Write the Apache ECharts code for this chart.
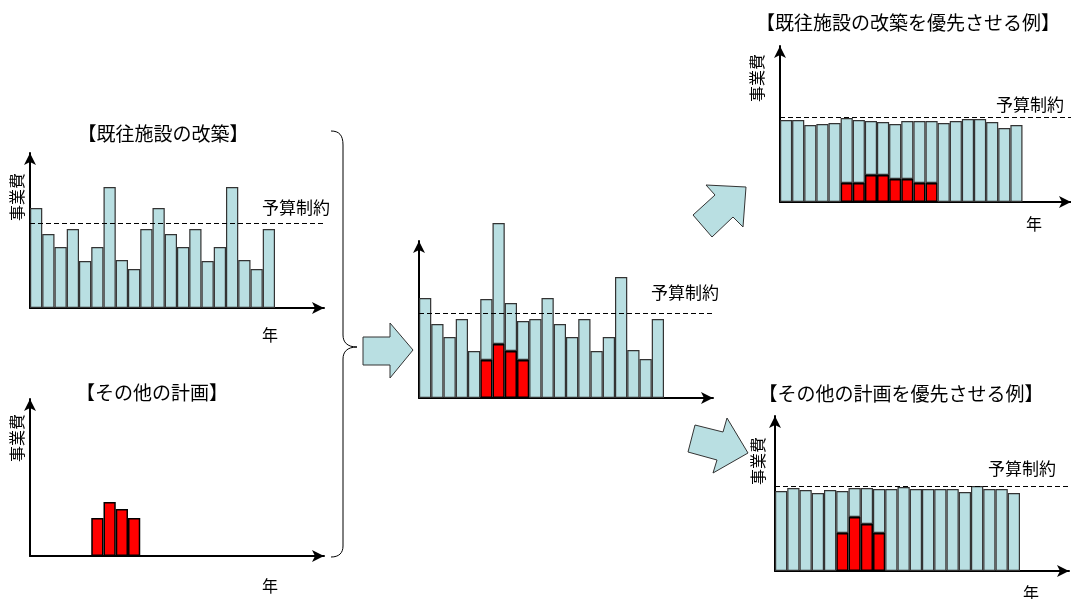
<!DOCTYPE html>
<html lang="ja">
<head>
<meta charset="utf-8">
<title>事業費の平準化</title>
<script src="https://cdn.jsdelivr.net/npm/echarts@6/dist/echarts.min.js"></script>
<style>
  html, body { margin: 0; padding: 0; background: #ffffff; }
  #chart { width: 1071px; height: 599px; }
</style>
</head>
<body>
<div id="chart"></div>
<script>
// Years along the horizontal axis (the last four are the open end of the axis)
const years = ['1', '2', '3', '4', '5', '6', '7', '8', '9', '10', '11', '12',
               '13', '14', '15', '16', '17', '18', '19', '20', '21', '22', '23', '24'];

// 既往施設の改築: yearly cost of renewing existing facilities
const existingRenewal = [100, 74, 61, 79, 47, 61, 121, 48, 39, 79,
                         100, 74, 61, 79, 47, 61, 121, 48, 39, 79];

// その他の計画: yearly cost of the other plans
const otherPlans = [null, null, null, null, null, 38, 54, 47, 38, null,
                    null, null, null, null, null, null, null, null, null, null];

// 既往施設の改築を優先させる例: other plans spread out, renewal levelled
const otherPlansSpread = [null, null, null, null, null, 19, 19, 27, 27, 23,
                          23, 19, 19, null, null, null, null, null, null, null];
const renewalWhenRenewalFirst = [82, 82, 77, 78, 79, 65, 63, 54, 53, 55,
                                 58, 62, 62, 79, 81, 83, 83, 80, 74, 77];

// その他の計画を優先させる例: other plans kept, renewal levelled around them
const renewalWhenPlansFirst = [80, 83, 81, 78, 81, 42, 29, 36, 44, 82,
                               84, 82, 82, 82, 82, 79, 85, 82, 82, 78];

// 予算制約: budget ceiling
const budgetLimit = 85;

// Text labels
const titles = ['【既往施設の改築】', '【その他の計画】', '【既往施設の改築を優先させる例】', '【その他の計画を優先させる例】'];
const costLabel = '事業費';
const yearLabel = '年';
const budgetLabel = '予算制約';

const FONT = '"Noto Sans CJK JP", "Noto Sans", sans-serif';
const BLUE = '#B9DFE2';
const RED = '#FF0000';

// Panel frames: left edge of the vertical axis, top of the value range, height
const panels = [
  { left: 30,  top: 153, height: 155 },   // 既往施設の改築
  { left: 30,  top: 399, height: 157 },   // その他の計画
  { left: 419, top: 241, height: 157 },   // combined
  { left: 780, top: 46,  height: 156 },   // 既往施設の改築を優先
  { left: 775, top: 416, height: 155 }    // その他の計画を優先
];

const axisLineStyle = { color: '#000', width: 2 };

const grids = panels.map(p => ({ left: p.left, top: p.top, width: 294, height: p.height }));
const xAxes = panels.map((p, i) => ({
  type: 'category', gridIndex: i, data: years, boundaryGap: true,
  axisLine: { show: true, onZero: true, symbol: ['none', 'arrow'], symbolSize: [9, 12], lineStyle: axisLineStyle },
  axisTick: { show: false }, axisLabel: { show: false }, splitLine: { show: false }
}));
const yAxes = panels.map((p, i) => ({
  type: 'value', gridIndex: i, min: 0, max: p.height,
  axisLine: { show: true, symbol: ['none', 'arrow'], symbolSize: [9, 12], lineStyle: axisLineStyle },
  axisTick: { show: false }, axisLabel: { show: false }, splitLine: { show: false }
}));

const blueStyle = { color: BLUE, borderColor: '#333', borderWidth: 1.2 };
const redStyle = { color: RED, borderColor: '#000', borderWidth: 1.5 };

function budgetLine() {
  return {
    silent: true, symbol: 'none',
    lineStyle: { color: '#000', type: [5, 3], width: 1 },
    label: { show: false },
    data: [{ yAxis: budgetLimit }]
  };
}

// Bars may rise past the top of the arrowed axis, so they are not clipped to the grid
function bar(name, idx, data, style, stack, withBudget) {
  const s = {
    name: name, type: 'bar', xAxisIndex: idx, yAxisIndex: idx, data: data,
    stack: stack, barCategoryGap: 0, barGap: 0, itemStyle: style, clip: false,
    animation: false, emphasis: { disabled: true }
  };
  if (withBudget) s.markLine = budgetLine();
  return s;
}

const series = [
  bar('既往施設の改築', 0, existingRenewal, blueStyle, 's0', true),
  bar('その他の計画', 1, otherPlans, redStyle, 's1', false),
  bar('その他の計画', 2, otherPlans, redStyle, 's2', false),
  bar('既往施設の改築', 2, existingRenewal, blueStyle, 's2', true),
  bar('その他の計画', 3, otherPlansSpread, redStyle, 's3', false),
  bar('既往施設の改築', 3, renewalWhenRenewalFirst, blueStyle, 's3', true),
  bar('その他の計画', 4, otherPlans, redStyle, 's4', false),
  bar('既往施設の改築', 4, renewalWhenPlansFirst, blueStyle, 's4', true)
];

function label(text, x, y, size, rotate) {
  return {
    type: 'text', x: x, y: y, rotation: rotate ? Math.PI / 2 : 0, z: 10,
    style: { text: text, fill: '#000', font: size + 'px ' + FONT, align: 'center', verticalAlign: 'middle' }
  };
}

function blockArrow(points) {
  return {
    type: 'polygon', z: 5,
    shape: { points: points },
    style: { fill: BLUE, stroke: '#333', lineWidth: 1 }
  };
}

const braceStyle = { fill: 'none', stroke: '#000', lineWidth: 1 };
function curve(x1, y1, cpx1, cpy1, cpx2, cpy2, x2, y2) {
  return { type: 'bezierCurve', z: 5, shape: { x1, y1, cpx1, cpy1, cpx2, cpy2, x2, y2 }, style: braceStyle };
}
function segment(x1, y1, x2, y2) {
  return { type: 'line', z: 5, shape: { x1, y1, x2, y2 }, style: braceStyle };
}

const graphics = [
  // titles
  label(titles[0], 163, 134, 19),
  label(titles[1], 152, 393, 19),
  label(titles[2], 908, 23, 19),
  label(titles[3], 901, 394, 19),
  // vertical axis names
  label(costLabel, 17, 197, 16, true),
  label(costLabel, 17, 438, 16, true),
  label(costLabel, 757, 78, 16, true),
  label(costLabel, 758, 461, 16, true),
  // horizontal axis names
  label(yearLabel, 270, 335, 16),
  label(yearLabel, 270, 586, 16),
  label(yearLabel, 1034, 224, 16),
  label(yearLabel, 1031, 593, 16),
  // budget line captions
  label(budgetLabel, 296, 208, 17),
  label(budgetLabel, 685, 293, 17),
  label(budgetLabel, 1030, 105, 17),
  label(budgetLabel, 1022, 469, 17),
  // brace joining the two input panels
  curve(331, 131, 339, 131, 343, 135, 343, 145),
  segment(343, 145, 343, 335),
  curve(343, 335, 343, 342, 347, 347, 357, 347),
  curve(357, 347, 347, 347, 343, 352, 343, 359),
  segment(343, 359, 343, 546),
  curve(343, 546, 343, 553, 339, 557, 331, 557),
  // block arrows
  blockArrow([[363, 337], [390, 337], [390, 323], [413, 350], [390, 378], [390, 365], [363, 365]]),
  blockArrow([[693, 215], [715, 195], [706, 185], [746, 187], [743, 227], [733, 217], [712, 237]]),
  blockArrow([[695, 425], [723, 432], [727, 418], [748, 453], [713, 473], [717, 460], [688, 452]])
];

const chart = echarts.init(document.getElementById('chart'), null, { renderer: 'canvas' });
chart.setOption({
  backgroundColor: '#ffffff',
  animation: false,
  textStyle: { fontFamily: FONT },
  grid: grids,
  xAxis: xAxes,
  yAxis: yAxes,
  series: series,
  graphic: graphics
});
</script>
</body>
</html>
